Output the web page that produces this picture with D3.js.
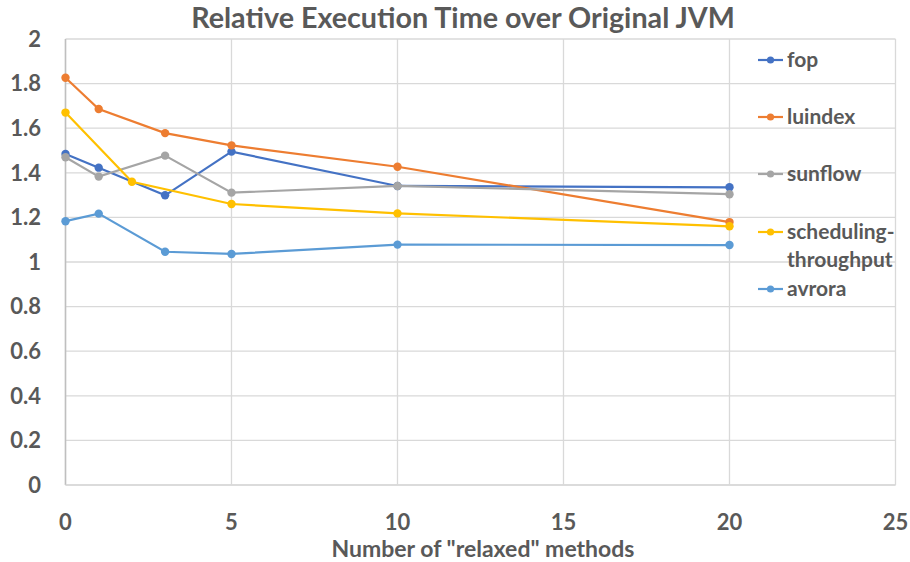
<html>
<head>
<style>
body {
  margin: 0;
  background: white;
  font-family: Lato, "Open Sans", sans-serif;
}
svg { display: block; }
.grid line { stroke: #d9d9d9; stroke-width: 1.3; }
.tick-label { fill: #595959; font-size: 22px; font-weight: bold; }
</style>
</head>
<body>
<script src="https://cdnjs.cloudflare.com/ajax/libs/d3/7.8.5/d3.min.js"></script>
<script>
var names = ['fop', 'luindex', 'sunflow', 'scheduling-throughput', 'avrora']
var colors = ['#4472C4', '#ED7D31', '#A5A5A5', '#FFC000', '#5B9BD5']

var xFop = [0, 1, 3, 5, 10, 20]
var yFop = [1.484, 1.423, 1.299, 1.495, 1.341, 1.335]
var xLuindex = [0, 1, 3, 5, 10, 20]
var yLuindex = [1.826, 1.686, 1.578, 1.523, 1.427, 1.179]
var xSunflow = [0, 1, 3, 5, 10, 20]
var ySunflow = [1.470, 1.383, 1.477, 1.311, 1.341, 1.304]
var xScheduling = [0, 2, 5, 10, 20]
var yScheduling = [1.670, 1.360, 1.260, 1.218, 1.160]
var xAvrora = [0, 1, 3, 5, 10, 20]
var yAvrora = [1.183, 1.217, 1.046, 1.036, 1.078, 1.076]

var xTicks = [0, 5, 10, 15, 20, 25]
var yTicks = [0, 0.2, 0.4, 0.6, 0.8, 1, 1.2, 1.4, 1.6, 1.8, 2]

var seriesX = [xFop, xLuindex, xSunflow, xScheduling, xAvrora]
var seriesY = [yFop, yLuindex, ySunflow, yScheduling, yAvrora]
var series = names.map(function(n, i) {
  return {
    name: n,
    color: colors[i],
    points: seriesX[i].map(function(x, j) { return { x: x, y: seriesY[i][j] } })
  }
})

var width = 910, height = 562
var plotLeft = 65.5, plotRight = 895.5, plotTop = 39, plotBottom = 485

var svg = d3.select("body").append("svg")
  .attr("width", width)
  .attr("height", height)

var x = d3.scaleLinear().domain([0, 25]).range([plotLeft, plotRight])
var y = d3.scaleLinear().domain([0, 2]).range([plotBottom, plotTop])

// gridlines
var grid = svg.append("g").attr("class", "grid")
grid.selectAll(".h").data(yTicks).enter().append("line")
  .attr("x1", plotLeft).attr("x2", plotRight)
  .attr("y1", function(d) { return y(d) }).attr("y2", function(d) { return y(d) })
grid.selectAll(".v").data(xTicks).enter().append("line")
  .attr("x1", function(d) { return x(d) }).attr("x2", function(d) { return x(d) })
  .attr("y1", plotTop).attr("y2", plotBottom)

// y axis line a bit darker
svg.append("line")
  .attr("x1", plotLeft).attr("x2", plotLeft).attr("y1", plotTop).attr("y2", plotBottom)
  .attr("stroke", "#bfbfbf").attr("stroke-width", 1.5)
svg.append("line")
  .attr("x1", plotLeft).attr("x2", plotRight).attr("y1", plotBottom).attr("y2", plotBottom)
  .attr("stroke", "#d9d9d9").attr("stroke-width", 1.5)

// tick labels
svg.selectAll(".ylab").data(yTicks).enter().append("text")
  .attr("class", "tick-label")
  .attr("x", 41)
  .attr("y", function(d) { return y(d) })
  .attr("dy", "0.35em")
  .attr("text-anchor", "end")
  .text(function(d) { return d3.format("")(+d.toFixed(1)) })

svg.selectAll(".xlab").data(xTicks).enter().append("text")
  .attr("class", "tick-label")
  .attr("x", function(d) { return x(d) })
  .attr("y", 522)
  .attr("dy", "0.35em")
  .attr("text-anchor", "middle")
  .text(function(d) { return d })

// titles
svg.append("text")
  .attr("x", 463).attr("y", 18).attr("dy", "0.35em")
  .attr("text-anchor", "middle")
  .style("font-size", "28.7px").style("font-weight", "bold").style("fill", "#595959")
  .text("Relative Execution Time over Original JVM")

svg.append("text")
  .attr("x", 483).attr("y", 549).attr("dy", "0.35em")
  .attr("text-anchor", "middle")
  .style("font-size", "23px").style("font-weight", "bold").style("fill", "#595959")
  .text('Number of "relaxed" methods')

// lines
var line = d3.line().x(function(d) { return x(d.x) }).y(function(d) { return y(d.y) })

var groups = svg.selectAll(".series").data(series).enter().append("g")
groups.append("path")
  .attr("d", function(d) { return line(d.points) })
  .attr("fill", "none")
  .attr("stroke", function(d) { return d.color })
  .attr("stroke-width", 2.2)
groups.selectAll("circle").data(function(d) { return d.points.map(function(p) { return { p: p, c: d.color } }) })
  .enter().append("circle")
  .attr("cx", function(d) { return x(d.p.x) })
  .attr("cy", function(d) { return y(d.p.y) })
  .attr("r", 4.2)
  .attr("fill", function(d) { return d.c })

// legend
var legendItems = [
  { lines: ['fop'], y: 60 },
  { lines: ['luindex'], y: 117 },
  { lines: ['sunflow'], y: 174 },
  { lines: ['scheduling-', 'throughput'], y: 232 },
  { lines: ['avrora'], y: 289 }
]
var legend = svg.selectAll(".legend").data(legendItems).enter().append("g")
  .attr("transform", function(d) { return "translate(758 " + d.y + ")" })
legend.append("line")
  .attr("x1", 0).attr("x2", 25).attr("y1", 0).attr("y2", 0)
  .attr("stroke", function(d, i) { return colors[i] }).attr("stroke-width", 2.2)
legend.append("circle")
  .attr("cx", 12.5).attr("r", 3.6)
  .attr("fill", function(d, i) { return colors[i] })
legend.append("text")
  .attr("x", 29)
  .style("font-size", "21px").style("font-weight", "bold").style("fill", "#595959")
  .selectAll("tspan").data(function(d) { return d.lines }).enter().append("tspan")
  .attr("x", 29)
  .attr("y", function(d, i) { return i * 28 })
  .attr("dy", "0.35em")
  .text(function(d) { return d })
</script>
</body>
</html>
